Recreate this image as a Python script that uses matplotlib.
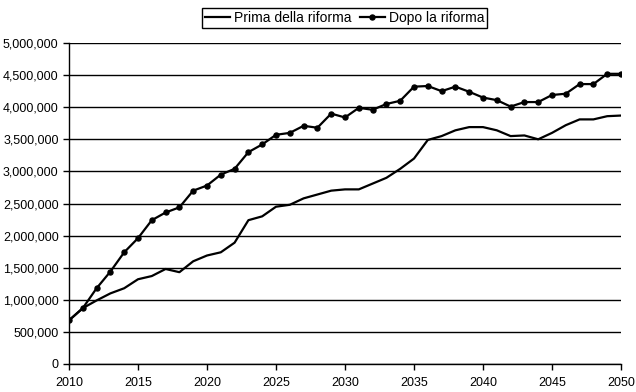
import numpy as np
import matplotlib.pyplot as plt
from matplotlib.ticker import FuncFormatter

plt.rcParams['font.family'] = ['Liberation Sans', 'DejaVu Sans']

# Data
years = list(range(2010, 2051))
prima = [680000, 870000, 990000, 1100000, 1180000, 1320000, 1370000, 1480000, 1430000, 1600000,
         1690000, 1740000, 1890000, 2240000, 2300000, 2450000, 2480000, 2580000, 2640000, 2700000,
         2720000, 2720000, 2810000, 2900000, 3040000, 3200000, 3490000, 3550000, 3640000, 3690000,
         3690000, 3640000, 3550000, 3560000, 3500000, 3600000, 3720000, 3810000, 3810000, 3860000,
         3870000]
dopo = [680000, 870000, 1180000, 1440000, 1740000, 1960000, 2240000, 2360000, 2440000, 2700000,
        2780000, 2950000, 3040000, 3300000, 3420000, 3570000, 3600000, 3710000, 3680000, 3900000,
        3840000, 3990000, 3960000, 4050000, 4100000, 4320000, 4330000, 4250000, 4320000, 4240000,
        4150000, 4110000, 4010000, 4080000, 4080000, 4190000, 4210000, 4360000, 4360000, 4520000,
        4520000]
labels = ['Prima della riforma', 'Dopo la riforma']

fig = plt.figure(figsize=(6.36, 3.92), dpi=100)
ax = fig.add_axes([69 / 636, 28 / 392, 552 / 636, 321 / 392])

ax.plot(years, prima, color='black', lw=1.6, label=labels[0])
ax.plot(years, dopo, color='black', lw=1.6, marker='o', markersize=3.6, label=labels[1])

ax.set_xlim(2010, 2050)
ax.set_ylim(0, 5000000)
ax.set_xticks(range(2010, 2051, 5))
ax.set_yticks(range(0, 5000001, 500000))
ax.yaxis.set_major_formatter(FuncFormatter(lambda v, p: f'{int(v):,}'))

ax.grid(axis='y', color='black', lw=1)
ax.set_axisbelow(True)
for s in ['top', 'right']:
    ax.spines[s].set_visible(False)
for s in ['left', 'bottom']:
    ax.spines[s].set_linewidth(1)
ax.tick_params(axis='both', labelsize=9, length=4, width=1, color='black')
ax.tick_params(axis='x', pad=5)

fig.legend(loc='upper center', bbox_to_anchor=(0.542, 0.997), ncol=2, fontsize=10,
           frameon=True, fancybox=False, edgecolor='black', framealpha=1,
           borderpad=0.2, handlelength=1.8, handletextpad=0.3, columnspacing=0.6)

fig.savefig('out.png', dpi=100)
